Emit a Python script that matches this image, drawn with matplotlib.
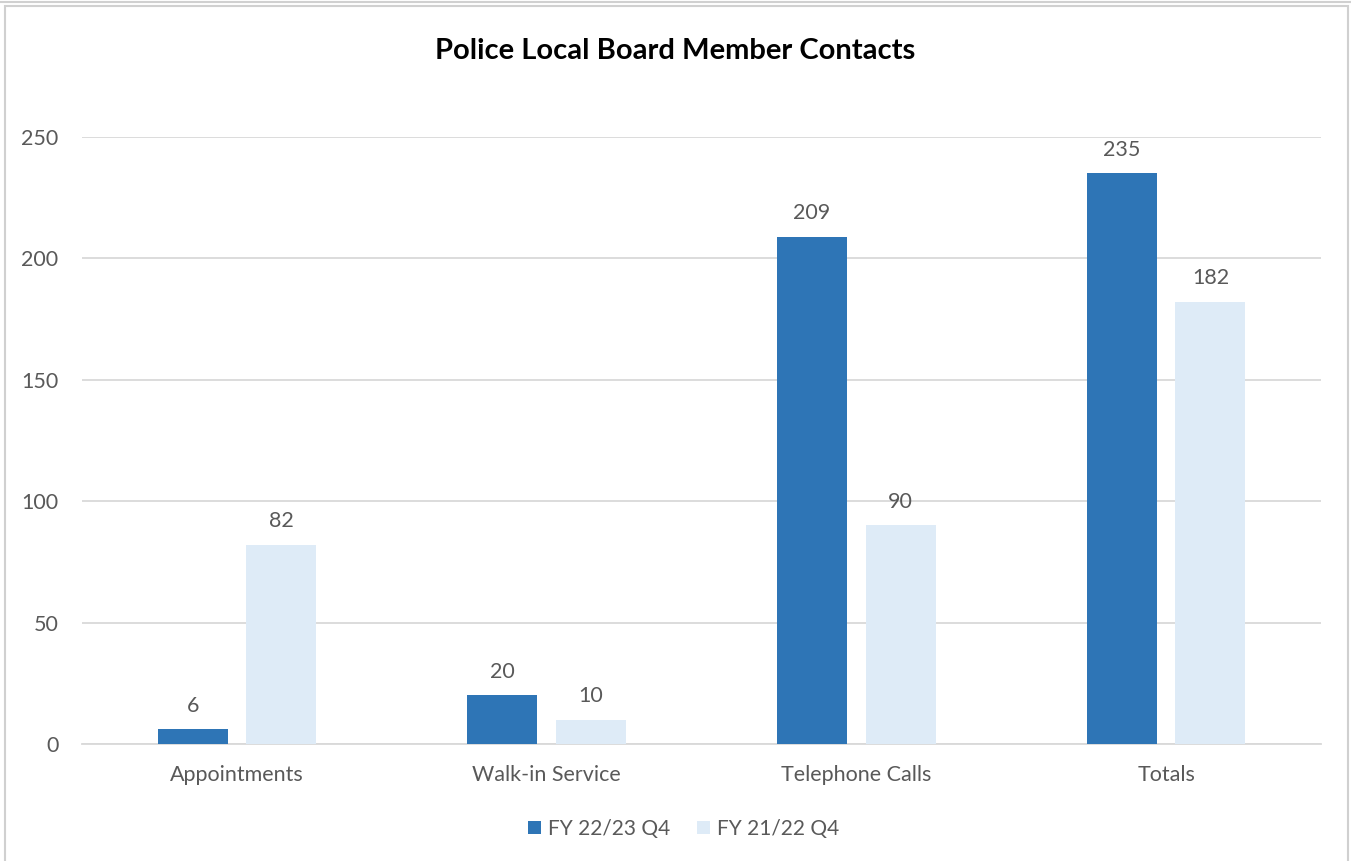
import numpy as np
import matplotlib.pyplot as plt
from matplotlib.patches import Rectangle
from matplotlib.lines import Line2D

plt.rcParams['font.family'] = ['Lato', 'DejaVu Sans']

# data
categories = ['Appointments', 'Walk-in Service', 'Telephone Calls', 'Totals']
fy2223 = [6, 20, 209, 235]
fy2122 = [82, 10, 90, 182]
series_names = ['FY 22/23 Q4', 'FY 21/22 Q4']
yticks = [0, 50, 100, 150, 200, 250]

dark = '#2E75B6'
light = '#DEEBF7'
txt = '#595959'
grid = '#D9D9D9'

fig = plt.figure(figsize=(13.51, 8.61), dpi=100)
ax = fig.add_axes([82 / 1351, 117 / 861, 1239 / 1351, 607 / 861])

x = np.arange(len(categories))
w = 0.226
b1 = ax.bar(x - 0.143, fy2223, width=w, color=dark, label=series_names[0], zorder=3)
b2 = ax.bar(x + 0.143, fy2122, width=w, color=light, label=series_names[1], zorder=3)

for bars in (b1, b2):
    for r in bars:
        ax.annotate(f'{int(r.get_height())}', (r.get_x() + r.get_width() / 2, r.get_height()),
                    xytext=(0, 10), textcoords='offset points', ha='center', va='bottom',
                    fontsize=15.5, color=txt)

ax.set_xlim(-0.5, len(categories) - 0.5)
ax.set_ylim(0, 250)
ax.set_yticks(yticks)
ax.set_xticks(x)
ax.set_xticklabels(categories)
ax.tick_params(axis='both', length=0, labelsize=15.5, colors=txt)
ax.tick_params(axis='x', pad=15)
ax.tick_params(axis='y', pad=17)
ax.yaxis.grid(True, color=grid, linewidth=1.3, zorder=0)
for s in ['top', 'right', 'left']:
    ax.spines[s].set_visible(False)
ax.spines['bottom'].set_color(grid)
ax.spines['bottom'].set_linewidth(1.3)

fig.text(0.5, 1 - 51 / 861, 'Police Local Board Member Contacts', ha='center', va='center',
         fontsize=21, fontweight='bold', color='black')

fig.legend(handles=[b1, b2], labels=series_names, loc='center', bbox_to_anchor=(0.506, 1 - 829 / 861),
           ncol=2, frameon=False, fontsize=15, handlelength=0.6, handleheight=0.6,
           handletextpad=0.35, columnspacing=1.3, labelcolor=txt)

# chart frame
fig.patches.append(Rectangle((5 / 1351, -0.05), 1343 / 1351, 1.05 - 6 / 861, transform=fig.transFigure,
                             fill=False, edgecolor='#D0D0D0', linewidth=1.5))
fig.lines.append(Line2D([0, 1], [1 - 2 / 861, 1 - 2 / 861], transform=fig.transFigure,
                        color='#D0D0D0', linewidth=1.5))

plt.savefig('out.png', dpi=100)
